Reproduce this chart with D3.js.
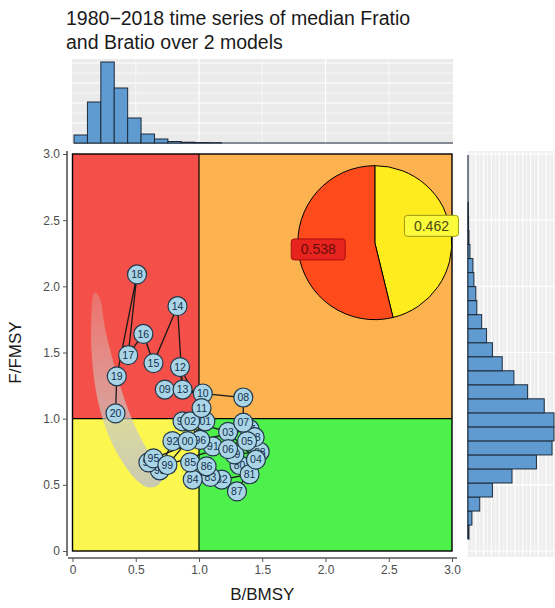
<!DOCTYPE html>
<html>
<head>
<meta charset="UTF-8">
<script src="https://cdn.jsdelivr.net/npm/d3@7"></script>
<style>
  body { margin: 0; background: #fff; }
  text { font-family: "Liberation Sans", Arial, sans-serif; }
</style>
</head>
<body>
<script>
// year labels and median ratios
var years = ["80","81","82","83","84","85","86","87","88","89",
             "90","91","92","93","94","95","96","97","98","99",
             "00","01","02","03","04","05","06","07","08","09",
             "10","11","12","13","14","15","16","17","18","19","20"];
var bRatio = [1.32,1.40,1.18,1.09,0.95,0.93,1.06,1.30,1.48,1.28,
              0.87,1.11,0.79,0.69,0.60,0.64,1.01,1.40,1.44,0.75,
              0.91,1.05,0.93,1.23,1.45,1.38,1.23,1.35,1.35,0.73,
              1.03,1.02,0.85,0.87,0.83,0.64,0.56,0.44,0.51,0.35,0.34];
var fRatio = [0.65,0.58,0.54,0.56,0.54,0.67,0.64,0.45,0.75,0.73,
              0.98,0.79,0.83,0.61,0.67,0.70,0.84,0.92,0.86,0.65,
              0.83,0.98,0.98,0.90,0.69,0.83,0.77,0.97,1.16,1.22,
              1.19,1.08,1.39,1.22,1.85,1.42,1.64,1.48,2.09,1.32,1.04];

// uncertainty cloud of the last year (outline, B then F)
var cloudB = [0.16,0.22,0.26,0.34,0.44,0.57,0.71,0.68,0.57,0.44,0.30,0.20,0.15];
var cloudF = [1.92,1.90,1.67,1.37,1.07,0.80,0.61,0.50,0.49,0.61,0.84,1.14,1.52];

// kobe quadrants
var quadX0 = [0, 1, 0, 1];
var quadX1 = [1, 3, 1, 3];
var quadY0 = [1, 1, 0, 0];
var quadY1 = [3, 3, 1, 1];

// pie of final status
var pieNames = ["yellow", "red"];
var pieValues = [0.462, 0.538];
var pieCenter = [2.39, 2.33];

// marginal histogram of B/BMSY
var bBinStart = [0.012,0.118,0.224,0.330,0.436,0.542,0.648,0.754,0.860,0.966,1.072];
var bCounts = [8,41,81,55,25,9,4,1.5,0.8,0.5,0.3];
// marginal histogram of F/FMSY
var fBinStart = [0.090,0.196,0.302,0.408,0.514,0.620,0.726,0.832,0.938,1.044,
                 1.150,1.256,1.362,1.468,1.574,1.680,1.786,1.892,1.998,2.104,
                 2.210,2.316,2.422,2.528];
var fCounts = [1,4,12,25,45,70,86,88,88,78,61,47,35,25,19,14,9,8,6,5,2,1,0.6,0.4];
var binWidth = 0.106;

var axisTicks = [0, 0.5, 1, 1.5, 2, 2.5, 3];

var W = 555, H = 608;
var svg = d3.select("body").append("svg").attr("width", W).attr("height", H);

var x = d3.scaleLinear().domain([0, 3]).range([72.5, 452]);
var y = d3.scaleLinear().domain([0, 3]).range([551, 154]);

var quadColors = ["#f44f48", "#fcb24e", "#fbf74e", "#4ef04c"];
var fmt = function(d) { return d === 0 ? "0" : d3.format(".1f")(d); };

// title
svg.append("text").attr("x", 66).attr("y", 25).attr("font-size", 19.5).attr("fill", "#1a1a1a")
   .text("1980\u22122018 time series of median Fratio");
svg.append("text").attr("x", 66).attr("y", 49).attr("font-size", 19.5).attr("fill", "#1a1a1a")
   .text("and Bratio over 2 models");

// ---- top histogram ----
var topY = d3.scaleLinear().domain([0, 82]).range([143, 61]);
var topG = svg.append("g");
topG.append("rect").attr("x", 72).attr("y", 59).attr("width", 381).attr("height", 85).attr("fill", "#ebebeb");
[10,30,50,70].forEach(function(c) {
  topG.append("line").attr("x1", 72).attr("x2", 453).attr("y1", topY(c)).attr("y2", topY(c))
      .attr("stroke", "#fff").attr("stroke-width", 0.6);
});
[20,40,60,80].forEach(function(c) {
  topG.append("line").attr("x1", 72).attr("x2", 453).attr("y1", topY(c)).attr("y2", topY(c))
      .attr("stroke", "#fff").attr("stroke-width", 1.2);
});
[0.5,1.5,2.5].forEach(function(v) {
  topG.append("line").attr("x1", x(v)).attr("x2", x(v)).attr("y1", 59).attr("y2", 144)
      .attr("stroke", "#fff").attr("stroke-width", 0.6);
});
[1,2].forEach(function(v) {
  topG.append("line").attr("x1", x(v)).attr("x2", x(v)).attr("y1", 59).attr("y2", 144)
      .attr("stroke", "#fff").attr("stroke-width", 1.2);
});
topG.append("line").attr("x1", x(0.012)).attr("x2", 453).attr("y1", 143).attr("y2", 143)
    .attr("stroke", "#1d2b3a").attr("stroke-width", 1);
topG.selectAll("rect.bar").data(bCounts).enter().append("rect").attr("class", "bar")
    .attr("x", function(d, i) { return x(bBinStart[i]); })
    .attr("width", function(d, i) { return x(bBinStart[i] + binWidth) - x(bBinStart[i]); })
    .attr("y", function(d) { return topY(d); })
    .attr("height", function(d) { return topY(0) - topY(d); })
    .attr("fill", "#5f9bd0").attr("stroke", "#1d2b3a").attr("stroke-width", 1);

// ---- right histogram ----
var rightX = d3.scaleLinear().domain([0, 88]).range([468, 554]);
var rightG = svg.append("g");
rightG.append("rect").attr("x", 468).attr("y", 151).attr("width", 90).attr("height", 406).attr("fill", "#eeeeee");
d3.range(4, 100, 4).forEach(function(c, i) {
  rightG.append("line").attr("x1", rightX(c)).attr("x2", rightX(c)).attr("y1", 151).attr("y2", 557)
        .attr("stroke", "#fff").attr("stroke-width", i % 2 ? 1.1 : 0.5);
});
axisTicks.forEach(function(v) {
  rightG.append("line").attr("x1", 468).attr("x2", 558).attr("y1", y(v)).attr("y2", y(v))
        .attr("stroke", "#fff").attr("stroke-width", 1.2);
});
rightG.append("line").attr("x1", 468).attr("x2", 468).attr("y1", 155).attr("y2", y(0.09))
      .attr("stroke", "#1d2b3a").attr("stroke-width", 1.2);
rightG.selectAll("rect.bar").data(fCounts).enter().append("rect").attr("class", "bar")
      .attr("y", function(d, i) { return y(fBinStart[i] + binWidth); })
      .attr("height", function(d, i) { return y(fBinStart[i]) - y(fBinStart[i] + binWidth); })
      .attr("x", rightX(0))
      .attr("width", function(d) { return rightX(d) - rightX(0); })
      .attr("fill", "#5f9bd0").attr("stroke", "#1d2b3a").attr("stroke-width", 1);

// ---- main kobe panel ----
var main = svg.append("g");
main.selectAll("rect.quad").data(quadColors).enter().append("rect").attr("class", "quad")
    .attr("x", function(d, i) { return x(quadX0[i]); })
    .attr("y", function(d, i) { return y(quadY1[i]); })
    .attr("width", function(d, i) { return x(quadX1[i]) - x(quadX0[i]); })
    .attr("height", function(d, i) { return y(quadY0[i]) - y(quadY1[i]); })
    .attr("fill", function(d) { return d; });
main.append("line").attr("x1", x(1)).attr("x2", x(1)).attr("y1", y(0)).attr("y2", y(3))
    .attr("stroke", "#000").attr("stroke-width", 1.2);
main.append("line").attr("x1", x(0)).attr("x2", x(3)).attr("y1", y(1)).attr("y2", y(1))
    .attr("stroke", "#000").attr("stroke-width", 1.2);
main.append("rect").attr("x", x(0)).attr("y", y(3)).attr("width", x(3) - x(0)).attr("height", y(0) - y(3))
    .attr("fill", "none").attr("stroke", "#000").attr("stroke-width", 1.4);

// pie
var pie = d3.pie().sort(null).value(function(d) { return d; });
var arcs = pie(pieValues);
var arc = d3.arc().innerRadius(0).outerRadius(77);
var labelArc = d3.arc().innerRadius(57).outerRadius(57);
var pieG = main.append("g").attr("transform", "translate(" + x(pieCenter[0]) + "," + y(pieCenter[1]) + ")");
var sliceFill = { yellow: "#ffec1f", red: "#ff4a1c" };
pieG.selectAll("path").data(arcs).enter().append("path")
    .attr("d", arc)
    .attr("fill", function(d, i) { return sliceFill[pieNames[i]]; })
    .attr("stroke", "#000").attr("stroke-width", 1);
var boxFill = { yellow: "#fbfb3c", red: "#e6231c" };
var boxStroke = { yellow: "#9a9a10", red: "#a60f0f" };
var boxText = { yellow: "#4a4a10", red: "#6b0c0c" };
arcs.forEach(function(d, i) {
  var c = labelArc.centroid(d);
  var lab = pieG.append("g").attr("transform", "translate(" + c[0] + "," + (c[1] + (i === 0 ? -10 : 0)) + ")");
  lab.append("rect").attr("x", -27).attr("y", -10.5).attr("width", 54).attr("height", 21).attr("rx", 3)
     .attr("fill", boxFill[pieNames[i]]).attr("stroke", boxStroke[pieNames[i]]).attr("stroke-width", 1);
  lab.append("text").attr("text-anchor", "middle").attr("dy", "0.36em").attr("font-size", 14)
     .attr("fill", boxText[pieNames[i]]).text(d3.format(".3f")(d.data));
});

// uncertainty cloud
var grad = svg.append("defs").append("linearGradient").attr("id", "cloud")
    .attr("x1", 0).attr("y1", 0).attr("x2", 0).attr("y2", 1);
grad.append("stop").attr("offset", "0%").attr("stop-color", "#d8d8d8").attr("stop-opacity", 0.25);
grad.append("stop").attr("offset", "100%").attr("stop-color", "#c4c4bc").attr("stop-opacity", 0.9);
main.append("path")
    .datum(d3.range(cloudB.length))
    .attr("d", d3.line().curve(d3.curveCardinalClosed)
                 .x(function(i) { return x(cloudB[i]); })
                 .y(function(i) { return y(cloudF[i]); }))
    .attr("fill", "url(#cloud)");

// trajectory
var idx = d3.range(years.length);
main.append("path").datum(idx)
    .attr("d", d3.line().x(function(i) { return x(bRatio[i]); }).y(function(i) { return y(fRatio[i]); }))
    .attr("fill", "none").attr("stroke", "#1a1a1a").attr("stroke-width", 1.3);
var pts = main.selectAll("g.pt").data(idx).enter().append("g").attr("class", "pt")
    .attr("transform", function(i) { return "translate(" + x(bRatio[i]) + "," + y(fRatio[i]) + ")"; });
pts.append("circle").attr("r", 9.5).attr("fill", "#a9d5e6").attr("stroke", "#22394c").attr("stroke-width", 1.2);
pts.append("text").attr("text-anchor", "middle").attr("dy", "0.36em").attr("font-size", 10.5)
   .attr("fill", "#15304f").text(function(i) { return years[i]; });

// axes
var yAxis = svg.append("g").attr("transform", "translate(67,0)")
    .call(d3.axisLeft(y).tickValues(axisTicks).tickFormat(fmt).tickSizeOuter(0).tickSizeInner(4));
var xAxis = svg.append("g").attr("transform", "translate(0,558)")
    .call(d3.axisBottom(x).tickValues(axisTicks).tickFormat(fmt).tickSizeOuter(0).tickSizeInner(4));
[yAxis, xAxis].forEach(function(a) {
  a.select(".domain").attr("stroke", "#555").attr("stroke-width", 1.6);
  a.selectAll(".tick line").attr("stroke", "#555");
  a.selectAll(".tick text").attr("fill", "#4d4d4d").attr("font-size", 12)
   .attr("font-family", "Liberation Sans, Arial, sans-serif");
});
yAxis.select(".domain").attr("d", "M0,151V556");
xAxis.select(".domain").attr("d", "M68,0H457");

svg.append("text").attr("x", x(1.5)).attr("y", 600).attr("text-anchor", "middle")
   .attr("font-size", 17).attr("fill", "#1a1a1a").text("B/BMSY");
svg.append("text").attr("transform", "translate(21," + y(1.5) + ") rotate(-90)")
   .attr("text-anchor", "middle").attr("font-size", 17).attr("fill", "#1a1a1a").text("F/FMSY");
</script>
</body>
</html>
